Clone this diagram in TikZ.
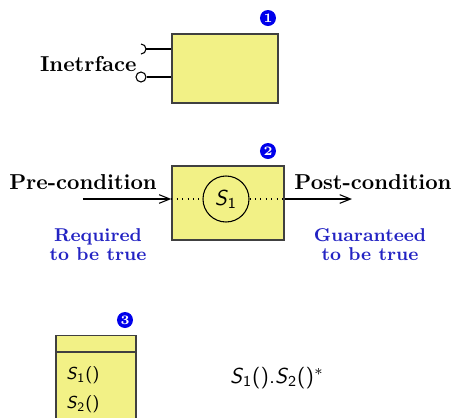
\documentclass[tikz,border=0pt]{standalone}
\usepackage{tikz}
\usetikzlibrary{arrows.meta, positioning, calc}
\definecolor{boxyellow}{RGB}{242,241,134}
\definecolor{badgeblue}{RGB}{0,0,235}
\definecolor{noteblue}{RGB}{35,35,195}

\begin{document}
\begin{tikzpicture}[>={Straight Barb[length=5pt, width=4pt]}, font=\normalsize]
  \def\px{0.4633pt} % one pixel of the layout
  \begin{scope}[x=\px, y=-\px]
  \tikzset{
    compbox/.style={draw=black!75, line width=0.6pt, fill=boxyellow, inner sep=0pt},
    badge/.style={circle, fill=badgeblue, text=white, font=\fontsize{6}{6}\selectfont\bfseries, inner sep=0pt, minimum size=16*\px},
    lbl/.style={font=\bfseries},
    note/.style={font=\fontsize{8.6}{8.8}\selectfont\bfseries, text=noteblue, align=center},
    wire/.style={line width=0.5pt}
  }
  \useasboundingbox (0,0) rectangle (455,418);
  \clip (0,0) rectangle (455,418);

  % 1: component with interfaces
  \node[compbox, minimum width=106*\px, minimum height=69*\px] (comp) at (225,68.5) {};
  \node[badge] (b1) at (268,18) {1};
  \coordinate (sock) at (141,49);
  \node[circle, draw, wire, fill=white, minimum size=10*\px, inner sep=0pt] (lolli) at (141,77) {};
  \draw[wire] (sock) ++(0,-5) arc (-90:90:5);
  \coordinate (sockend) at (146,49);
  \draw[wire] (sockend) -- (sockend -| comp.west);
  \draw[wire] (lolli) -- (lolli -| comp.west);
  \node[lbl, anchor=east, inner sep=0pt] (iface) at (137,64) {Inetrface};

  % 2: pre- and post-condition
  \node[compbox, minimum width=112*\px, minimum height=74*\px] (cond) at (228,203) {};
  \node[badge] (b2) at (268,151) {2};
  \node[circle, draw, wire, minimum size=46*\px, inner sep=0pt] (s1) at (226,199) {\textsf{\textit{S}\textsubscript{1}}};
  \coordinate (prestart) at (83,199);
  \coordinate (postend) at (352,199);
  \draw[wire, ->] (prestart) -- (s1.west -| cond.west);
  \draw[wire, dotted] (s1.west -| cond.west) -- (s1.west);
  \draw[wire, dotted] (s1.east) -- (s1.east -| cond.east);
  \draw[wire, ->] (s1.east -| cond.east) -- (postend);
  \node[lbl, anchor=base] (pre) at (83,189) {Pre-condition};
  \node[lbl, anchor=base] (post) at (373,189) {Post-condition};
  \node[note, anchor=base] (req) at (98,260) {Required\\to be true};
  \node[note, anchor=base] (guar) at (370,260) {Guaranteed\\to be true};

  % 3: class with operations
  \node[compbox, anchor=north, minimum width=80*\px, minimum height=110*\px] (cls) at (96,335) {};
  \node[badge] (b3) at (125,320) {3};
  \draw[compbox] ($(cls.north west)+(0,17)$) -- ($(cls.north east)+(0,17)$);
  \node[anchor=west, inner sep=0pt, font=\footnotesize\sffamily] (op1) at (66,375) {\textit{S}\textsubscript{1}()};
  \node[anchor=west, inner sep=0pt, font=\footnotesize\sffamily] (op2) at (66,404) {\textit{S}\textsubscript{2}()};
  \node[font=\sffamily] (seq) at (277,378) {\textit{S}\textsubscript{1}().\textit{S}\textsubscript{2}()$^{\ast}$};
  \end{scope}
\end{tikzpicture}
\end{document}
